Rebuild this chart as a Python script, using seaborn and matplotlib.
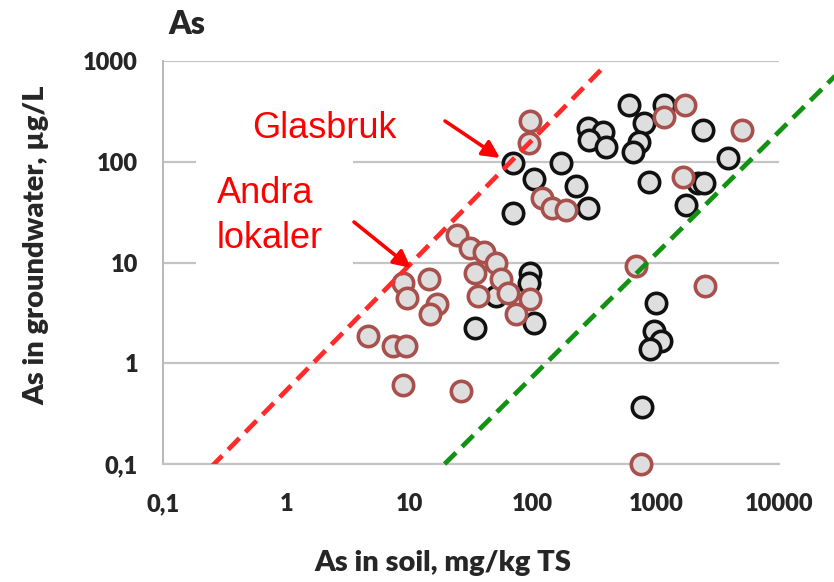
import numpy as np
import pandas as pd
import matplotlib
matplotlib.use("Agg")
import matplotlib.pyplot as plt
import seaborn as sns
from matplotlib.patches import Rectangle

# ---------------- data ----------------
glas_x = [603, 1160, 799, 280, 371, 285, 392, 728, 650, 2410, 3850, 877, 2195, 2455, 1754,
          224, 280, 169, 69, 102, 69, 96, 93, 50, 34, 102, 1000, 964, 1099, 894, 769]
glas_y = [365, 365, 242, 215, 197, 164, 139, 156, 124, 206, 108, 62.5, 61, 61, 37,
          58, 35, 97, 97, 67, 31, 7.8, 6.3, 4.7, 2.25, 2.5, 4.0, 2.1, 1.67, 1.39, 0.37]

andra_x = [24.5, 31, 40, 50, 34, 55, 63, 36, 96, 73, 8.9, 14.3, 9.6, 16.9, 14.8, 4.6,
           7.4, 9.3, 8.9, 26, 96, 93, 120, 145, 185, 688, 2500, 755, 1720, 1160, 5000, 1660]
andra_y = [18.6, 13.8, 12.6, 9.8, 7.8, 6.8, 5.0, 4.6, 4.3, 3.1, 6.3, 6.8, 4.4, 3.9, 3.1, 1.88,
           1.49, 1.49, 0.61, 0.53, 253, 153, 44, 34.5, 33, 9.3, 5.9, 0.1, 365, 277, 206, 70]

red_line_x = [0.245, 378]
red_line_y = [0.093, 871]
green_line_x = [19.3, 28500]
green_line_y = [0.1, 710]

x_ticks = [0.1, 1, 10, 100, 1000, 10000]
x_tick_labels = ["0,1", "1", "10", "100", "1000", "10000"]
y_ticks = [0.1, 1, 10, 100, 1000]
y_tick_labels = ["0,1", "1", "10", "100", "1000"]

# ---------------- style ----------------
sns.set_style("white")
plt.rcParams["font.family"] = ["Lato", "DejaVu Sans"]

W, H = 834, 582
fig = plt.figure(figsize=(W / 100, H / 100), dpi=100)
fig.patch.set_facecolor("white")

def fx(px):
    return px / W

def fy(py):
    return 1 - py / H

ax_left, ax_right, ax_top, ax_bot = 163, 779, 61, 464
ax = fig.add_axes([fx(ax_left), fy(ax_bot), (ax_right - ax_left) / W, (ax_bot - ax_top) / H])
ax.set_xscale("log")
ax.set_yscale("log")
ax.set_xlim(0.1, 10000)
ax.set_ylim(0.1, 1000)

df_g = pd.DataFrame({"soil": glas_x, "water": glas_y})
df_a = pd.DataFrame({"soil": andra_x, "water": andra_y})

fill = "#dedede"
sns.scatterplot(data=df_g, x="soil", y="water", ax=ax, s=215, color=fill,
                edgecolor="#111111", linewidth=2.6, clip_on=False, zorder=3)
sns.scatterplot(data=df_a, x="soil", y="water", ax=ax, s=215, color=fill,
                edgecolor="#a8504c", linewidth=2.6, clip_on=False, zorder=4)

l1, = ax.plot(red_line_x, red_line_y, color="#ff2a2a", lw=3.4, zorder=5)
l1.set_dashes((3.4, 1.8))
l2, = ax.plot(green_line_x, green_line_y, color="#119311", lw=3.4, zorder=5, clip_on=False)
l2.set_dashes((3.4, 1.8))

# axes styling
ax.xaxis.set_major_locator(matplotlib.ticker.FixedLocator(x_ticks))
ax.yaxis.set_major_locator(matplotlib.ticker.FixedLocator(y_ticks))
ax.xaxis.set_minor_locator(matplotlib.ticker.NullLocator())
ax.yaxis.set_minor_locator(matplotlib.ticker.NullLocator())
ax.set_xticklabels(x_tick_labels)
ax.set_yticklabels(y_tick_labels)
ax.grid(axis="y", color="#c4c4c4", lw=1.6, zorder=0)
ax.grid(axis="x", visible=False)
ax.set_axisbelow(True)
for s in ["top", "right"]:
    ax.spines[s].set_visible(False)
ax.spines["left"].set_color("#b8b8b8")
ax.spines["left"].set_linewidth(1.4)
ax.spines["bottom"].set_color("#c4c4c4")
ax.spines["bottom"].set_linewidth(1.6)
ax.tick_params(axis="x", direction="out", length=6, width=1.4, color="#b8b8b8",
               pad=15, labelsize=17)
ax.tick_params(axis="y", direction="out", length=5, width=1.4, color="#b8b8b8",
               pad=13, labelsize=17)
for t in ax.get_xticklabels() + ax.get_yticklabels():
    t.set_fontweight("heavy")

ax.set_xlabel("As in soil, mg/kg TS", fontsize=21, fontweight="heavy")
ax.set_ylabel("As in groundwater, µg/L", fontsize=21, fontweight="heavy")
ax.xaxis.label.set_va("center")
ax.yaxis.label.set_va("center")
ax.xaxis.set_label_coords((443 - ax_left) / (ax_right - ax_left), (ax_bot - 563) / (ax_bot - ax_top))
ax.yaxis.set_label_coords((36 - ax_left) / (ax_right - ax_left), (ax_bot - 245) / (ax_bot - ax_top))

fig.text(fx(168), fy(25), "As", fontsize=23, fontweight="heavy", ha="left", va="center")

# white box behind "Andra lokaler"
ax.add_patch(Rectangle((fx(196), fy(270)), fx(353) - fx(196), fy(158) - fy(270),
                       transform=fig.transFigure, facecolor="white", edgecolor="none",
                       zorder=1.5, clip_on=False))

ann_font = ["Liberation Sans", "DejaVu Sans"]
fig.text(fx(252), fy(138), "Glasbruk", color="#ff0000", fontsize=26, family=ann_font,
         ha="left", va="baseline")
fig.text(fx(217), fy(203), "Andra", color="#ff0000", fontsize=26, family=ann_font,
         ha="left", va="baseline")
fig.text(fx(217), fy(248), "lokaler", color="#ff0000", fontsize=26, family=ann_font,
         ha="left", va="baseline")

arrow = dict(arrowstyle="-|>", color="#ff0000", lw=2.6, mutation_scale=26,
             shrinkA=0, shrinkB=0)
fig.add_artist(matplotlib.patches.FancyArrowPatch((fx(445), fy(121)), (fx(500), fy(158)),
               transform=fig.transFigure, **arrow))
fig.add_artist(matplotlib.patches.FancyArrowPatch((fx(354), fy(222)), (fx(411), fy(268)),
               transform=fig.transFigure, **arrow))

fig.savefig("out.png", dpi=100, facecolor="white")
